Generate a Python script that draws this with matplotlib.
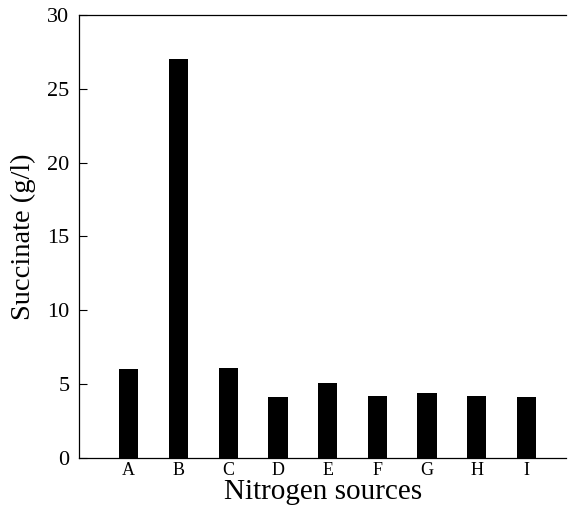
import matplotlib
matplotlib.use("Agg")
import matplotlib.pyplot as plt

categories = ["A", "B", "C", "D", "E", "F", "G", "H", "I"]
succinate = [6.0, 27.0, 6.1, 4.15, 5.1, 4.2, 4.4, 4.2, 4.1]
yticks = [0, 5, 10, 15, 20, 25, 30]

plt.rcParams['font.family'] = ['Liberation Serif', 'DejaVu Serif']

fig = plt.figure(figsize=(5.69, 5.18), dpi=100)
ax = fig.add_axes([0.139, 0.116, 0.856, 0.855])

x = list(range(1, len(categories) + 1))
ax.bar(x, succinate, width=0.39, color='black')

ax.set_xlim(0, 9.8)
ax.set_ylim(0, 30)
ax.set_xticks(x)
ax.set_xticklabels(categories, fontsize=13)
ax.set_yticks(yticks)
ax.set_yticklabels([str(t) for t in yticks], fontsize=16)
ax.tick_params(axis='x', length=0, pad=3)
ax.tick_params(axis='y', direction='in', length=6, pad=7)
ax.spines['right'].set_visible(False)
for s in ['left', 'top', 'bottom']:
    ax.spines[s].set_linewidth(0.9)

ax.set_xlabel("Nitrogen sources", fontsize=21, labelpad=0)
ax.set_ylabel("Succinate (g/l)", fontsize=20.5, labelpad=8)

fig.savefig("out.png", dpi=100)
